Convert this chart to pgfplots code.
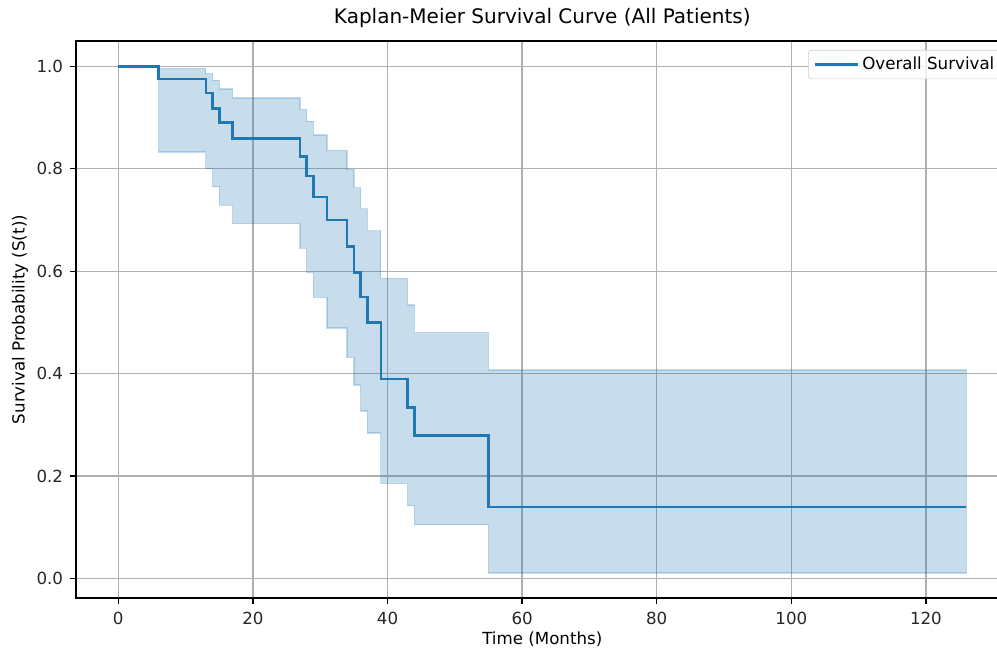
\documentclass[border=0pt]{standalone}
\usepackage{fontspec}
\setmainfont{DejaVu Sans}
\usepackage{pgfplots}
\pgfplotsset{compat=1.18}
\usepgfplotslibrary{fillbetween}

\definecolor{c0}{HTML}{1F77B4}
\definecolor{gridgray}{HTML}{B0B0B0}
\definecolor{legedge}{HTML}{CCCCCC}

\begin{document}
\begin{tikzpicture}
\begin{axis}[
    scale only axis,
    width=671.6pt, height=401pt,
    xmin=-6.3, xmax=132.3,
    ymin=-0.038, ymax=1.0495,
    xtick={0,20,...,120},
    ytick={0,0.2,...,1.0},
    /pgf/number format/assume math mode=true,
    tick label style={font=\fontsize{12}{14}\selectfont, text=black!85},
    xticklabel style={yshift=-2.5pt},
    yticklabel style={xshift=-1.5pt, /pgf/number format/.cd, fixed, fixed zerofill, precision=1},
    tick align=outside,
    tick pos=left,
    major tick length=4.2pt,
    every tick/.style={black, line width=0.96pt},
    axis line style={line width=0.96pt},
    grid=major,
    grid style={gridgray, line width=0.96pt},
    xlabel={Time (Months)},
    ylabel={Survival Probability (S(t))},
    label style={font=\fontsize{12}{14}\selectfont},
    xlabel style={at={(axis description cs:0.5,0)}, anchor=base, yshift=-33.8pt},
    ylabel style={at={(axis description cs:-0.0599,0.5)}, anchor=center},
    title={Kaplan-Meier Survival Curve (All Patients)},
    title style={font=\fontsize{14.4}{17}\selectfont, at={(axis description cs:0.5,1)}, anchor=base, yshift=6.7pt},
    legend cell align=left,
    legend style={at={(rel axis cs:0.785,0.984)}, anchor=north west,
        draw=legedge, rounded corners=2pt, fill=white, fill opacity=0.8,
        text opacity=1, font=\fontsize{12}{14}\selectfont,
        inner xsep=4pt, inner ysep=3pt},
    legend image code/.code={\draw[#1] (0pt,0pt) -- (25pt,0pt); \path (0pt,0pt) -- (31pt,0pt);},
]
\addplot[const plot, draw=none, name path=up, forget plot] coordinates {
    (0,1.0) (6,0.996) (13,0.986) (14,0.973) (15,0.956) (17,0.938)
    (27,0.916) (28,0.893) (29,0.866) (31,0.836) (34,0.799) (35,0.763)
    (36,0.722) (37,0.679) (39,0.586) (43,0.534) (44,0.480) (55,0.407)
    (126,0.407)};
\addplot[const plot, draw=none, name path=lo, forget plot] coordinates {
    (0,1.0) (6,0.833) (13,0.800) (14,0.765) (15,0.729) (17,0.693)
    (27,0.645) (28,0.598) (29,0.549) (31,0.489) (34,0.432) (35,0.378)
    (36,0.327) (37,0.284) (39,0.186) (43,0.142) (44,0.105) (55,0.011)
    (126,0.011)};
\addplot[fill=c0, fill opacity=0.25, draw=c0, draw opacity=0.25, line width=0.96pt, forget plot]
    fill between[of=up and lo];
\addplot[const plot, c0, line width=1.8pt] coordinates {
    (0,1.0) (6,0.975) (13,0.948) (14,0.918) (15,0.890) (17,0.859)
    (27,0.824) (28,0.786) (29,0.745) (31,0.700) (34,0.648) (35,0.598)
    (36,0.550) (37,0.500) (39,0.390) (43,0.334) (44,0.279) (55,0.140)
    (126,0.140)};
\addlegendentry{Overall Survival}
\coordinate (sw) at (rel axis cs:0,0);
\end{axis}
\pgfresetboundingbox
\path ([xshift=-54.65pt,yshift=-38.16pt]sw) rectangle +(717.84pt,468.72pt);
\end{tikzpicture}
\end{document}
